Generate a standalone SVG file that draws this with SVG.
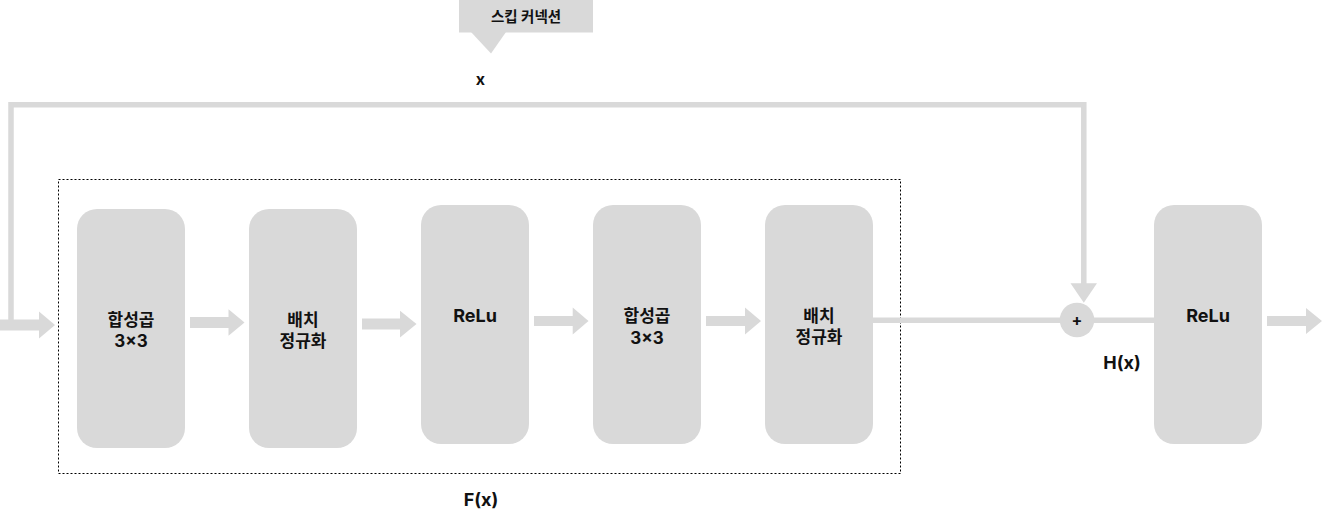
<svg xmlns="http://www.w3.org/2000/svg" width="1322" height="509" viewBox="0 0 1322 509">
<style>
.box{fill:#d9d9d9}
.arr{fill:#d9d9d9}
.ln{stroke:#d9d9d9;fill:none;stroke-width:5.5}
.t{font-family:Inter,"Noto Sans CJK KR",sans-serif;font-weight:700;fill:#111;text-anchor:middle}
.b{font-size:17px}
.l{font-size:18px}
</style>
<rect width="1322" height="509" fill="#fff"/>
<g id="callout">
<rect x="459" y="0" width="134" height="32.5" class="box"/>
<polygon points="471,32 506,32 491,53.5" class="box"/>
<text x="526" y="21.5" class="t" font-size="14.5">스킵 커넥션</text>
</g>
<g id="label-x"><text x="480.5" y="84.5" class="t" font-size="16">x</text></g>
<g id="fx-group">
<rect x="58.5" y="179.5" width="842" height="294" fill="none" stroke="#000" stroke-width="1" stroke-dasharray="2 2"/>
<text x="481" y="505.5" class="t l">F(x)</text>
</g>
<g id="connectors">
<path class="ln" d="M11,325 V104.8 H1083.8 V284"/>
<polygon class="arr" points="1070.5,283.3 1097,283.3 1083.8,302.7"/>
<path class="ln" d="M872,320.3 H1154"/>
<path class="arr" d="M0,319.5 H39 V311.5 L55,325 L39,338.5 V330.5 H0 Z"/>
<path class="arr" d="M190,317 H228.5 V309.3 L244.5,322.5 L228.5,335.7 V328 H190 Z"/>
<path class="arr" d="M362,318.5 H400 V310.7 L416.5,324 L400,337.5 V329.5 H362 Z"/>
<path class="arr" d="M534,316 H572.7 V307.5 L588.5,321 L572.7,334.5 V326 H534 Z"/>
<path class="arr" d="M706,316 H745 V307.5 L761,321 L745,334.5 V326 H706 Z"/>
<path class="arr" d="M1267,316 H1306 V308 L1322,321 L1306,334 V326 H1267 Z"/>
</g>
<g id="conv1">
<rect x="77" y="209" width="108" height="239" rx="20" class="box"/>
<text x="131" y="325.5" class="t b">합성곱</text>
<text x="131" y="346.5" class="t b">3×3</text>
</g>
<g id="bn1">
<rect x="249" y="209" width="108" height="239" rx="20" class="box"/>
<text x="303" y="325.5" class="t b">배치</text>
<text x="303" y="346.5" class="t b">정규화</text>
</g>
<g id="relu1">
<rect x="421" y="205" width="108" height="239" rx="20" class="box"/>
<text x="475" y="321.5" class="t l">ReLu</text>
</g>
<g id="conv2">
<rect x="593" y="205" width="108" height="239" rx="20" class="box"/>
<text x="647" y="322" class="t b">합성곱</text>
<text x="647" y="343.5" class="t b">3×3</text>
</g>
<g id="bn2">
<rect x="765" y="205" width="108" height="239" rx="20" class="box"/>
<text x="819" y="322" class="t b">배치</text>
<text x="819" y="343" class="t b">정규화</text>
</g>
<g id="add">
<circle cx="1077" cy="320" r="17.3" class="box"/>
<text x="1077" y="326" class="t" font-size="16">+</text>
</g>
<g id="label-hx"><text x="1122" y="368.5" class="t l">H(x)</text></g>
<g id="relu2">
<rect x="1154" y="205" width="108" height="239" rx="20" class="box"/>
<text x="1208" y="321.5" class="t l">ReLu</text>
</g>
</svg>
